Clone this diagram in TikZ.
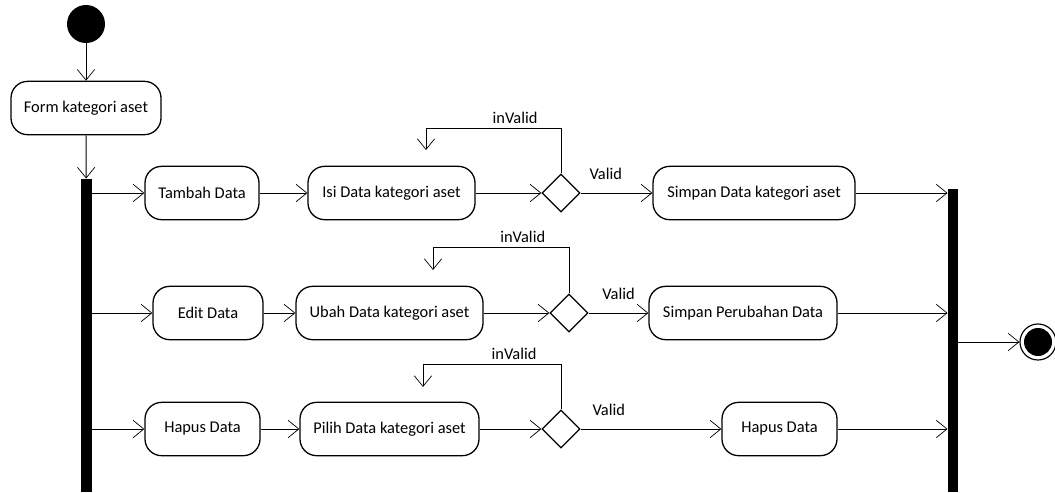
\documentclass[tikz,border=0pt]{standalone}
\usepackage{fontspec}
\setmainfont{Carlito}
\usepackage{tikz}
\usetikzlibrary{arrows.meta}
\usetikzlibrary{shapes.geometric}

\begin{document}
\begin{tikzpicture}[x=0.03cm, y=-0.03cm, line width=0.8pt,
    font=\fontsize{14}{16}\selectfont,
    >={Straight Barb[length=0.32cm,width=0.52cm,line width=0.6pt]},
    act/.style = {draw, line width=1.1pt, rounded corners=0.5cm, minimum height=1.6cm, inner sep=2pt},
    dec/.style = {draw, diamond, line width=1.1pt, minimum width=1.14cm, minimum height=1.14cm, inner sep=0pt},
    bar/.style = {fill=black, inner sep=0pt}]
    \useasboundingbox (0,0) rectangle (1055,492);
    % start and form
    \node[circle, fill=black, minimum size=1.14cm, inner sep=0pt] (start) at (86,24) {};
    \node[act, minimum width=4.5cm] (form) at (86,108) {Form kategori aset};
    % fork and join bars
    \node[bar, minimum width=0.33cm, minimum height=9.39cm] (barL) at (86.5,335.5) {};
    \node[bar, minimum width=0.3cm, minimum height=9.09cm] (barR) at (953,340.5) {};
    % row tambah
    \node[act, minimum width=3.42cm] (tambah) at (202,193) {Tambah Data};
    \node[act, minimum width=5.01cm] (isi) at (391.5,193) {Isi Data kategori aset};
    \node[dec] (d1) at (561,193) {};
    \node[act, minimum width=6.06cm] (simpan1) at (754,193) {Simpan Data kategori aset};
    % row edit
    \node[act, minimum width=3.3cm] (edit) at (208,313) {Edit Data};
    \node[act, minimum width=5.61cm] (ubah) at (389.5,313) {Ubah Data kategori aset};
    \node[dec] (d2) at (569,313) {};
    \node[act, minimum width=5.64cm] (simpan2) at (743,313) {Simpan Perubahan Data};
    % row hapus
    \node[act, minimum width=3.45cm] (hapus1) at (202.5,429) {Hapus Data};
    \node[act, minimum width=5.37cm] (pilih) at (389.5,429) {Pilih Data kategori aset};
    \node[dec] (d3) at (561,429) {};
    \node[act, minimum width=3.45cm] (hapus2) at (779.5,429) {Hapus Data};
    % end
    \node[circle, draw, line width=1pt, minimum size=1.08cm, inner sep=0pt] (end) at (1038,342) {};
    \fill (end.center) circle (0.42cm);
    % loop corners
    \coordinate (l1) at (426,128);
    \coordinate (t1) at (426,150);
    \coordinate (l2) at (433,247);
    \coordinate (t2) at (433,270);
    \coordinate (l3) at (423,364);
    \coordinate (t3) at (423,387);

    \draw[->] (start) -- (form);
    \draw[->] (form) -- (barL);
    \draw[->] (barL.east |- tambah) -- (tambah);
    \draw[->] (tambah) -- (isi);
    \draw[->] (isi) -- (d1);
    \draw[->] (d1) -- node[above=8pt, pos=0.35] {Valid} (simpan1);
    \draw[->] (simpan1) -- (simpan1 -| barR.west);
    \draw[->] (d1.north) |- (l1) node[above, pos=0.67] {inValid} -- (t1);
    \draw[->] (barL.east |- edit) -- (edit);
    \draw[->] (edit) -- (ubah);
    \draw[->] (ubah) -- (d2);
    \draw[->] (d2) -- node[above=8pt, pos=0.5] {Valid} (simpan2);
    \draw[->] (simpan2) -- (simpan2 -| barR.west);
    \draw[->] (d2.north) |- (l2) node[above, pos=0.67] {inValid} -- (t2);
    \draw[->] (barL.east |- hapus1) -- (hapus1);
    \draw[->] (hapus1) -- (pilih);
    \draw[->] (pilih) -- (d3);
    \draw[->] (d3) -- node[above=8pt, pos=0.2] {Valid} (hapus2);
    \draw[->] (hapus2) -- (hapus2 -| barR.west);
    \draw[->] (d3.north) |- (l3) node[above, pos=0.67] {inValid} -- (t3);
    \draw[->] (barR.east |- end) -- (end);
\end{tikzpicture}
\end{document}
